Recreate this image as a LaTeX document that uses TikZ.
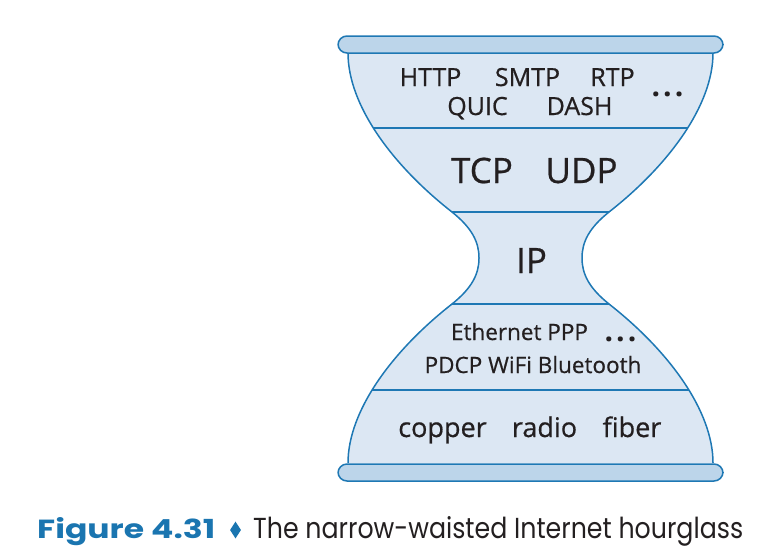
\documentclass[tikz,border=0pt]{standalone}
\usepackage{fontspec}
\setmainfont{Open Sans}
\newfontfamily\lblfont[FakeBold=0.6]{Open Sans}
\newfontfamily\capfont{Poppins}
\newfontfamily\capboldfont{Poppins Bold}
\usetikzlibrary{shapes.geometric}
\definecolor{edgeblue}{HTML}{1E78B4}
\definecolor{bodyfill}{HTML}{DCE7F3}
\definecolor{barfill}{HTML}{BCD5EA}
\definecolor{capblue}{HTML}{1A75B0}
\definecolor{ink}{HTML}{231F20}
\tikzset{
  lbl/.style={anchor=base, inner sep=0pt, text=ink},
  small/.style={lbl, font=\lblfont\fontsize{25}{25}\selectfont},
  big/.style={lbl, font=\lblfont\fontsize{35}{35}\selectfont},
  link/.style={lbl, font=\lblfont\fontsize{22.5}{22.5}\selectfont},
  phys/.style={lbl, font=\lblfont\fontsize{27}{27}\selectfont},
  dots/.style={lbl, font=\fontsize{30}{30}\selectfont\bfseries},
  outline/.style={draw=edgeblue, line width=1.5pt},
  bar/.style={outline, fill=barfill, rounded corners=9pt},
}
\begin{document}
\begin{tikzpicture}[x=1pt, y=-1pt]
\useasboundingbox (0,0) rectangle (775,552);
\def\bodypath{(348,53) .. controls (348,105) and (392,165) .. (452,212)
  .. controls (472,228) and (479,242) .. (479,258)
  .. controls (479,274) and (472,288) .. (452,304)
  .. controls (392,351) and (348,411) .. (348,463)
  -- (713,463)
  .. controls (713,411) and (669,351) .. (609,304)
  .. controls (589,288) and (582,274) .. (582,258)
  .. controls (582,242) and (589,228) .. (609,212)
  .. controls (669,165) and (713,105) .. (713,53) -- cycle}
\fill[bodyfill] \bodypath;
\begin{scope}
  \clip \bodypath;
  \foreach \yy in {128,212,304,390} \draw[edgeblue, line width=1.5pt] (330,\yy) -- (730,\yy);
\end{scope}
\draw[outline] (348,53) .. controls (348,105) and (392,165) .. (452,212)
  .. controls (472,228) and (479,242) .. (479,258)
  .. controls (479,274) and (472,288) .. (452,304)
  .. controls (392,351) and (348,411) .. (348,463);
\draw[outline] (713,53) .. controls (713,105) and (669,165) .. (609,212)
  .. controls (589,228) and (582,242) .. (582,258)
  .. controls (582,274) and (589,288) .. (609,304)
  .. controls (669,351) and (713,411) .. (713,463);
\node[bar, minimum width=385pt, minimum height=17pt, inner sep=0pt] (topbar) at (530.5,44.5) {};
\node[bar, minimum width=385pt, minimum height=17pt, inner sep=0pt] (botbar) at (530.5,472.5) {};
% application layer
\node[small] (http) at (430.5,86) {HTTP};
\node[small] (smtp) at (527.5,86) {SMTP};
\node[small] (rtp) at (612.5,86) {RTP};
\node[small] (quic) at (477.5,115) {QUIC};
\node[small] (dash) at (579.5,115) {DASH};
\node[dots] (adots) at (667.5,96) {.\kern3pt.\kern3pt.};
% transport
\node[big] (tcp) at (482,183) {TCP};
\node[big] (udp) at (581.5,183) {UDP};
% network
\node[big] (ip) at (531.5,273) {IP};
% link
\node[link] (eth) at (519.5,340) {Ethernet PPP};
\node[dots] (ldots) at (620.5,341) {.\kern3pt.\kern3pt.};
\node[link] (pdcp) at (533,373) {PDCP WiFi Bluetooth};
% physical
\node[phys] (copper) at (442.5,437) {copper};
\node[phys] (radio) at (544.5,437) {radio};
\node[phys] (fiber) at (632,437) {fiber};
% caption
\node[anchor=base west, inner sep=0pt, text=capblue] (fig) at (37,538)
  {\resizebox{178pt}{21pt}{\capboldfont Figure 4.31}};
\node[diamond, fill=capblue, inner sep=0pt, minimum width=11pt, minimum height=17pt] (dia) at (235.5,530) {};
\node[anchor=base west, inner sep=0pt, text=ink] (captext) at (253,538)
  {\resizebox{490pt}{22pt}{\capfont The narrow-waisted Internet hourglass}};
\end{tikzpicture}
\end{document}
